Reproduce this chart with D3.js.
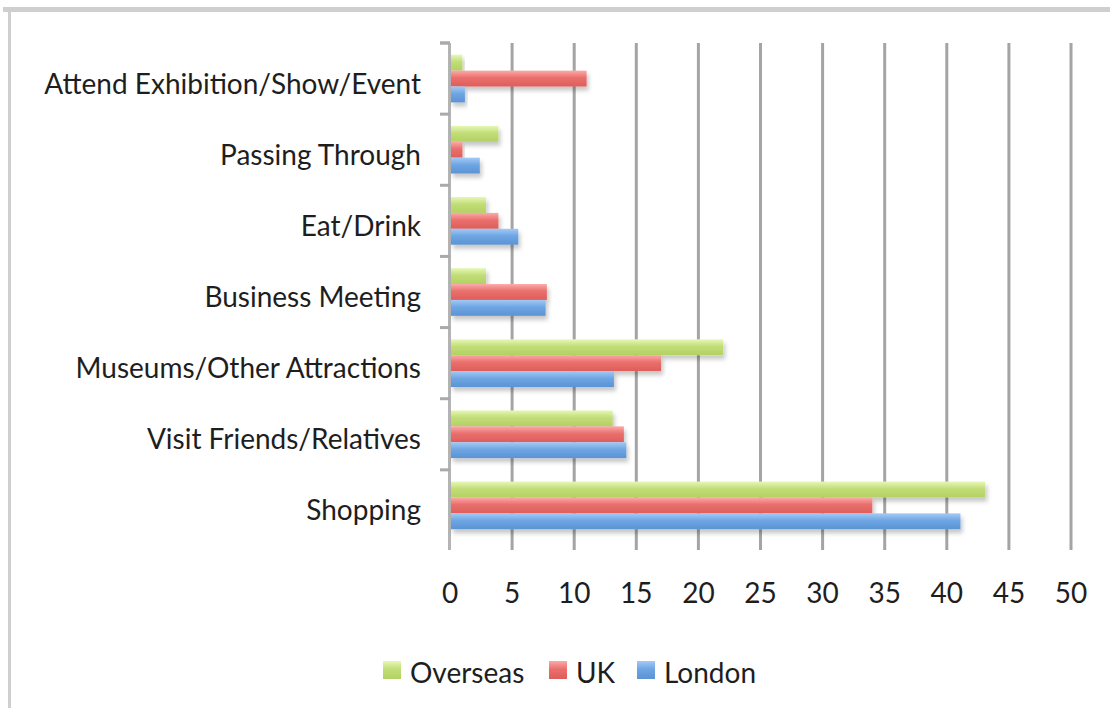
<!DOCTYPE html>
<html>
<head>
<meta charset="utf-8">
<script src="https://cdn.jsdelivr.net/npm/d3@7"></script>
<style>
  body { margin: 0; background: #fff; }
  svg { display: block; font-family: Lato, "Open Sans", sans-serif; }
</style>
</head>
<body>
<svg id="chart" width="1110" height="708"></svg>
<script>
// Data
var categories = ["Shopping", "Visit Friends/Relatives", "Museums/Other Attractions",
  "Business Meeting", "Eat/Drink", "Passing Through", "Attend Exhibition/Show/Event"];
var seriesNames = ["Overseas", "UK", "London"];
var overseas = [43.1, 13.1, 22, 2.9, 2.9, 3.9, 1];
var uk = [34, 14, 17, 7.8, 3.9, 1, 11];
var london = [41.1, 14.2, 13.2, 7.7, 5.5, 2.4, 1.2];
var xTicks = [0, 5, 10, 15, 20, 25, 30, 35, 40, 45, 50];

var colors = {
  Overseas: ["#e6f8b4", "#c2dd78", "#b3d163"],
  UK: ["#fbaaa8", "#ea6f6c", "#dd5e5b"],
  London: ["#a3c9f6", "#6ea6e3", "#5b93d4"]
};

var svg = d3.select("#chart");
var plotLeft = 450, plotRight = 1071, plotTop = 43, plotBottom = 541;

var x = d3.scaleLinear().domain([0, 50]).range([plotLeft, plotRight]);
var y = d3.scaleBand().domain(categories).range([plotBottom, plotTop])
  .paddingInner(0.33).paddingOuter(0.165);
var ySub = d3.scaleBand().domain(seriesNames).range([0, y.bandwidth()]);

var rows = categories.map(function(c, i) {
  return { cat: c, Overseas: overseas[i], UK: uk[i], London: london[i] };
});

// defs: gradients + shadow
var defs = svg.append("defs");
seriesNames.forEach(function(s) {
  var g = defs.append("linearGradient").attr("id", "grad-" + s)
    .attr("x1", 0).attr("y1", 0).attr("x2", 0).attr("y2", 1);
  g.append("stop").attr("offset", "0%").attr("stop-color", colors[s][0]);
  g.append("stop").attr("offset", "45%").attr("stop-color", colors[s][1]);
  g.append("stop").attr("offset", "100%").attr("stop-color", colors[s][2]);
});
var sh = defs.append("filter").attr("id", "shadow")
  .attr("x", "-10%").attr("y", "-30%").attr("width", "130%").attr("height", "200%");
sh.append("feDropShadow").attr("dx", 2).attr("dy", 4).attr("stdDeviation", 2)
  .attr("flood-color", "#000").attr("flood-opacity", 0.22);
var soft = defs.append("filter").attr("id", "soft");
soft.append("feGaussianBlur").attr("stdDeviation", 0.5);

// frame
svg.append("line").attr("x1", 3).attr("x2", 1110).attr("y1", 9.5).attr("y2", 9.5)
  .attr("stroke", "#cfcfcf").attr("stroke-width", 5);
svg.append("line").attr("x1", 9.5).attr("x2", 9.5).attr("y1", 9).attr("y2", 708)
  .attr("stroke", "#cfcfcf").attr("stroke-width", 3);

// gridlines
svg.append("g").attr("filter", "url(#soft)")
  .selectAll("line.grid").data(xTicks.slice(1)).enter().append("line")
  .attr("class", "grid")
  .attr("x1", function(d) { return x(d); }).attr("x2", function(d) { return x(d); })
  .attr("y1", plotTop).attr("y2", plotBottom + 9)
  .attr("stroke", "#a4a4a4").attr("stroke-width", 3);

// left axis
var yAxisG = svg.append("g").attr("filter", "url(#soft)");
yAxisG.append("line").attr("x1", plotLeft).attr("x2", plotLeft).attr("y1", plotTop).attr("y2", plotBottom + 9)
  .attr("stroke", "#b4b4b4").attr("stroke-width", 4);
var boundaries = categories.map(function(c) { return y(c) - y.step() * y.paddingInner() / 2; });
boundaries.push(plotTop);
yAxisG.selectAll("line.ytick").data(boundaries).enter().append("line")
  .attr("class", "ytick")
  .attr("x1", plotLeft - 10).attr("x2", plotLeft)
  .attr("y1", function(d) { return d; }).attr("y2", function(d) { return d; })
  .attr("stroke", "#aaa").attr("stroke-width", 3);

// bars
var groups = svg.selectAll("g.cat").data(rows).enter().append("g")
  .attr("class", "cat")
  .attr("transform", function(d) { return "translate(0," + y(d.cat) + ")"; });
groups.selectAll("rect").data(function(d) {
  return seriesNames.map(function(s) { return { s: s, v: d[s] }; });
}).enter().append("rect")
  .attr("x", x(0) + 1)
  .attr("y", function(d) { return ySub(d.s); })
  .attr("width", function(d) { return x(d.v) - x(0) - 1; })
  .attr("height", ySub.bandwidth())
  .attr("fill", function(d) { return "url(#grad-" + d.s + ")"; })
  .attr("filter", "url(#shadow)");

// bottom axis
var xAxisG = svg.append("g").attr("filter", "url(#soft)");
xAxisG.append("line").attr("x1", plotLeft - 10).attr("x2", plotRight).attr("y1", plotBottom).attr("y2", plotBottom)
  .attr("stroke", "#a8a8a8").attr("stroke-width", 4);

svg.append("g").selectAll("text.xt").data(xTicks).enter().append("text")
  .attr("class", "xt")
  .attr("x", function(d) { return x(d); }).attr("y", 603)
  .attr("text-anchor", "middle").attr("font-size", 28).attr("fill", "#1e1e1e")
  .text(function(d) { return d; });

// category labels
svg.append("g").selectAll("text.cl").data(categories).enter().append("text")
  .attr("class", "cl")
  .attr("x", 421).attr("y", function(d) { return y(d) + y.bandwidth() / 2 + 15; })
  .attr("text-anchor", "end").attr("font-size", 28).attr("fill", "#1e1e1e")
  .text(function(d) { return d; });

// legend
var legendX = [383, 549, 637];
var lg = svg.selectAll("g.leg").data(seriesNames).enter().append("g")
  .attr("class", "leg")
  .attr("transform", function(d, i) { return "translate(" + legendX[i] + ",661)"; });
lg.append("rect").attr("width", 18).attr("height", 18)
  .attr("fill", function(d) { return "url(#grad-" + d + ")"; });
lg.append("text").attr("x", 27).attr("y", 22).attr("font-size", 28).attr("fill", "#1e1e1e")
  .text(function(d) { return d; });
</script>
</body>
</html>
